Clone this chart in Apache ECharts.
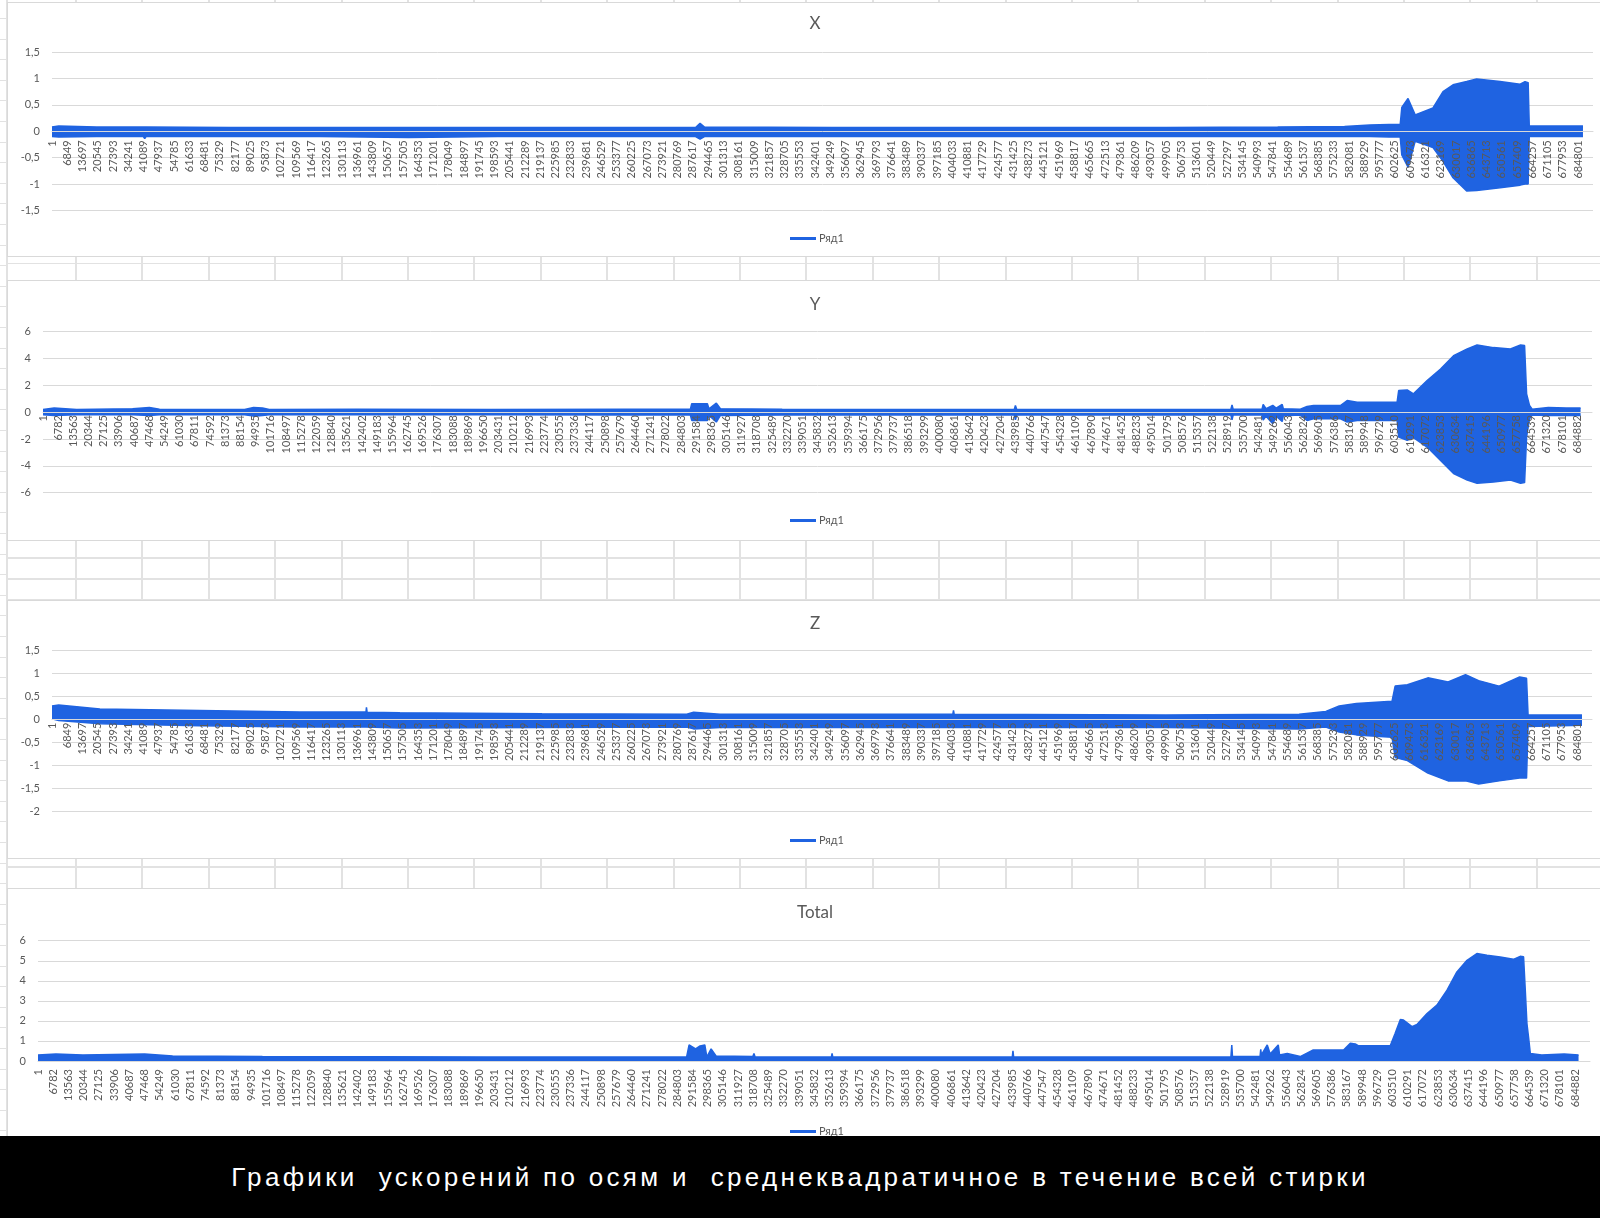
<!DOCTYPE html>
<html>
<head>
<meta charset="utf-8">
<script src="https://cdn.jsdelivr.net/npm/echarts@6/dist/echarts.min.js"></script>
<style>
  html, body { margin:0; padding:0; }
  body { width:1600px; height:1218px; overflow:hidden; background:#fff; position:relative; font-family:Lato, "Liberation Sans", sans-serif; }
  .ln { position:absolute; background:#e2e2e2; }
  .box { position:absolute; left:7px; width:1600px; background:#fff; border:1px solid #d9d9d9; box-sizing:border-box; }
  #chart { position:absolute; left:0; top:0; width:1600px; height:1218px; }
  #caption { position:absolute; left:0; top:1136px; width:1600px; height:82px; background:#000; color:#fff;
    font-family:"Liberation Sans", Arial, sans-serif; font-size:26px; line-height:82px; text-align:center;
    white-space:pre; letter-spacing:3.3px; }
</style>
</head>
<body>
<div id="sheet"></div>
<div class="box" style="top:2px;height:255px"></div>
<div class="box" style="top:280px;height:261px"></div>
<div class="box" style="top:600px;height:259px"></div>
<div class="box" style="top:888px;height:260px"></div>
<div id="chart"></div>
<div id="caption">Графики  ускорений по осям и  среднеквадратичное в течение всей стирки</div>
<script>
// ---------------- DATA ----------------
// sample indices (0-based) where the envelope was read, with upper / lower envelope values
const TICK_STEP_XZ = 6848;   // labels 1, 6849, 13697 ... 684801
const TICK_STEP_YT = 6781;   // labels 1, 6782, 13563 ... 684882
const CHART_TITLES = ['X', 'Y', 'Z', 'Total'];
const SERIES_NAME = 'Ряд1';

const xIdx   = [0, 3000, 20000, 41000, 41600, 42200, 80000, 120000, 160000, 200000, 240000, 288800, 290800, 292800, 350000, 400000, 450000, 500000, 550000, 580000, 591400, 600000, 605000, 605700, 608500, 611700, 619700, 624200, 628700, 634800, 639300, 649800, 658800, 661000, 662400, 662900, 670000, 680000, 687000];
const xUpper = [0.08, 0.1, 0.08, 0.08, 0.11, 0.08, 0.07, 0.07, 0.07, 0.07, 0.07, 0.07, 0.15, 0.08, 0.07, 0.07, 0.07, 0.07, 0.08, 0.09, 0.12, 0.13, 0.13, 0.45, 0.62, 0.31, 0.44, 0.75, 0.88, 0.94, 0.99, 0.94, 0.89, 0.94, 0.92, 0.1, 0.1, 0.1, 0.1];
const xLower = [-0.1, -0.11, -0.1, -0.1, -0.14, -0.1, -0.1, -0.1, -0.12, -0.1, -0.1, -0.1, -0.15, -0.1, -0.1, -0.1, -0.1, -0.1, -0.1, -0.1, -0.1, -0.11, -0.11, -0.45, -0.68, -0.19, -0.31, -0.57, -0.88, -1.13, -1.12, -1.07, -1.02, -1.0, -1.0, -0.1, -0.1, -0.1, -0.1];

const yIdx   = [0, 5000, 15000, 40000, 47500, 52000, 90000, 94000, 98000, 101000, 140000, 200000, 260000, 289000, 289600, 296600, 297300, 300600, 302400, 330000, 390000, 433600, 434100, 434700, 500000, 530300, 530800, 531300, 544200, 544700, 546000, 549000, 550500, 553200, 553700, 561300, 564300, 567200, 579200, 582200, 586700, 604500, 605200, 609000, 611800, 617900, 623900, 629700, 635800, 640200, 647500, 655100, 659600, 661400, 662300, 663600, 664800, 672000, 680000, 686400];
const yUpper = [0.2, 0.3, 0.2, 0.25, 0.35, 0.22, 0.2, 0.35, 0.3, 0.2, 0.22, 0.2, 0.22, 0.22, 0.62, 0.62, 0.25, 0.67, 0.25, 0.22, 0.2, 0.2, 0.5, 0.2, 0.2, 0.22, 0.54, 0.22, 0.22, 0.57, 0.25, 0.5, 0.3, 0.57, 0.25, 0.22, 0.42, 0.49, 0.49, 0.86, 0.74, 0.74, 1.6, 1.65, 1.36, 2.35, 3.2, 4.2, 4.7, 5.0, 4.8, 4.7, 5.0, 4.95, 1.36, 0.5, 0.22, 0.35, 0.3, 0.3];
const yLower = [-0.2, -0.25, -0.2, -0.2, -0.25, -0.2, -0.2, -0.3, -0.25, -0.2, -0.2, -0.2, -0.22, -0.22, -0.62, -0.62, -0.25, -0.74, -0.25, -0.22, -0.2, -0.22, -0.57, -0.22, -0.2, -0.22, -0.57, -0.22, -0.22, -0.6, -0.3, -0.86, -0.3, -0.7, -0.28, -0.22, -0.62, -0.5, -0.5, -0.74, -0.62, -0.62, -1.85, -2.1, -1.9, -2.6, -3.6, -4.57, -5.06, -5.3, -5.2, -5.06, -5.3, -5.25, -1.85, -0.5, -0.22, -0.25, -0.25, -0.25];

const zIdx   = [0, 3000, 21500, 66400, 111300, 141000, 141200, 141500, 156200, 220000, 285000, 288100, 300000, 404500, 404800, 405100, 500000, 560000, 572000, 578000, 585700, 601700, 602500, 603100, 608600, 617800, 626900, 634700, 640600, 649800, 659000, 662100, 662800, 687000];
const zUpper = [0.3, 0.32, 0.23, 0.2, 0.17, 0.17, 0.27, 0.16, 0.15, 0.13, 0.12, 0.16, 0.12, 0.12, 0.2, 0.12, 0.1, 0.12, 0.18, 0.3, 0.35, 0.4, 0.4, 0.73, 0.76, 0.91, 0.82, 0.98, 0.85, 0.73, 0.93, 0.9, 0.1, 0.1];
const zLower = [0.02, -0.02, -0.09, -0.13, -0.16, -0.16, -0.17, -0.17, -0.18, -0.17, -0.16, -0.2, -0.17, -0.17, -0.2, -0.17, -0.17, -0.2, -0.16, -0.27, -0.33, -0.38, -0.4, -0.82, -0.89, -1.16, -1.33, -1.33, -1.4, -1.33, -1.27, -1.27, -0.15, -0.12];

const tIdx   = [0, 8000, 20000, 47500, 60000, 100000, 200000, 289000, 290100, 293000, 295000, 297100, 298000, 299900, 302100, 318500, 319000, 319500, 353500, 353800, 354100, 434100, 434400, 434700, 531500, 531900, 532200, 544500, 544800, 545100, 547700, 549000, 552600, 553200, 556600, 562400, 568200, 581700, 584700, 586900, 588200, 602500, 604700, 607000, 608400, 612200, 614400, 618900, 623300, 627800, 632200, 636700, 641100, 645600, 651500, 657400, 660400, 661900, 662700, 663400, 664100, 664900, 670000, 680000, 686400];
const tUpper = [0.3, 0.35, 0.3, 0.35, 0.25, 0.22, 0.2, 0.2, 0.8, 0.6, 0.75, 0.8, 0.2, 0.6, 0.25, 0.22, 0.38, 0.2, 0.2, 0.38, 0.2, 0.2, 0.51, 0.2, 0.2, 0.8, 0.22, 0.22, 0.58, 0.3, 0.8, 0.35, 0.8, 0.3, 0.38, 0.22, 0.55, 0.55, 0.88, 0.85, 0.76, 0.76, 1.38, 2.07, 2.04, 1.71, 1.82, 2.37, 2.79, 3.53, 4.44, 5.02, 5.36, 5.27, 5.19, 5.07, 5.22, 5.2, 3.45, 1.87, 1.21, 0.38, 0.3, 0.35, 0.3];

// y-axis ranges (tick labels)
const yRanges = [[-1.5, 1.5, 0.5], [-6, 6, 2], [-2, 1.5, 0.5], [0, 6, 1]];
const tickSteps = [TICK_STEP_XZ, TICK_STEP_YT, TICK_STEP_XZ, TICK_STEP_YT];

// ---------------- LAYOUT ----------------
const X_MAX = 691500;
const grids = [
  { left: 52, top: 52,    width: 1541, height: 158.5 },
  { left: 43, top: 331.5, width: 1549, height: 161.2 },
  { left: 52, top: 650.7, width: 1540, height: 161 },
  { left: 38, top: 940.7, width: 1552, height: 120.3 }
];
const titleTops = [10, 291, 610, 899];
const legendTops = [228, 510, 830, 1121];
const labelMargins = [9, 3, 3, 8];
const BLUE = '#1f63e1';
const GREY_TXT = '#595959';

// spreadsheet background lines
(function drawSheet() {
  const sheet = document.getElementById('sheet');
  function ln(l, t, w, h) { const d = document.createElement('div'); d.className = 'ln';
    d.style.left = l + 'px'; d.style.top = t + 'px'; d.style.width = w + 'px'; d.style.height = h + 'px'; sheet.appendChild(d); }
  ln(6, 0, 1.5, 1218);
  for (let y = 18; y < 1136; y += 20.6) ln(0, Math.round(y), 7, 1);
  const gaps = [[0, 3], [256, 281], [540, 601], [858, 889]];
  gaps.forEach(([a, b]) => { for (let x = 75; x < 1600; x += 66.4) ln(Math.round(x), a, 1.5, b - a); });
  [557, 578, 599, 866].forEach(y => ln(7, y, 1600, 1.5));
  ln(7, 263, 1600, 1.2);
})();

function band(i, idx, up, lo) {
  const common = { type: 'line', name: SERIES_NAME, xAxisIndex: i, yAxisIndex: i, showSymbol: false, symbol: 'none',
    smooth: false, silent: true, z: 2, lineStyle: { color: BLUE, width: 1.5 }, itemStyle: { color: BLUE },
    areaStyle: { color: BLUE, opacity: 1 } };
  const out = [Object.assign({}, common, { data: idx.map((x, j) => [x, up[j]]) })];
  if (lo) out.push(Object.assign({}, common, { data: idx.map((x, j) => [x, lo[j]]) }));
  return out;
}

// x axis sits on the y = 0 line: offset it up from the bottom of its grid by the axis' own scale
function zeroOffset(i) {
  const r = yRanges[i];
  return -grids[i].height * (0 - r[0]) / (r[1] - r[0]);
}

const option = {
  animation: false,
  textStyle: { fontFamily: 'Lato, "Liberation Sans", sans-serif' },
  title: CHART_TITLES.map((t, i) => ({ text: t, left: 810, textAlign: 'center', top: titleTops[i],
    textStyle: { color: GREY_TXT, fontSize: 17, fontWeight: 'normal', fontFamily: 'Lato, sans-serif' } })),
  legend: legendTops.map(t => ({ data: [SERIES_NAME], left: 785, top: t, icon: 'rect', itemWidth: 26, itemHeight: 3,
    itemGap: 4, selectedMode: false, textStyle: { color: GREY_TXT, fontSize: 11, padding: [0, 0, 0, -2] } })),
  grid: grids.map(g => Object.assign({ outerBoundsMode: 'none', containLabel: false }, g)),
  xAxis: grids.map((g, i) => ({
    type: 'value', gridIndex: i, min: 0, max: X_MAX, interval: tickSteps[i], z: 5,
    position: 'bottom', offset: zeroOffset(i),
    axisLine: { show: true, onZero: false, lineStyle: { color: '#d9d9d9', width: 1 } },
    axisTick: { show: false }, splitLine: { show: false },
    axisLabel: { rotate: 90, fontSize: 11, color: GREY_TXT, margin: labelMargins[i], hideOverlap: false,
      showMinLabel: true, showMaxLabel: false,
      formatter: v => (v % tickSteps[i] === 0 && v <= 684900) ? String(v + 1) : '' }
  })),
  yAxis: yRanges.map((r, i) => ({
    type: 'value', gridIndex: i, min: r[0], max: r[1], interval: r[2],
    axisLine: { show: false, onZero: false }, axisTick: { show: false },
    splitLine: { show: true, lineStyle: { color: '#d9d9d9', width: 1 } },
    axisLabel: { fontSize: 11, color: GREY_TXT, margin: 12, formatter: v => String(v).replace('.', ',') }
  })),
  series: [].concat(
    band(0, xIdx, xUpper, xLower),
    band(1, yIdx, yUpper, yLower),
    band(2, zIdx, zUpper, zLower),
    band(3, tIdx, tUpper, null)
  )
};
const chart = echarts.init(document.getElementById('chart'), null, { renderer: 'canvas' });
chart.setOption(option);
</script>
</body>
</html>
